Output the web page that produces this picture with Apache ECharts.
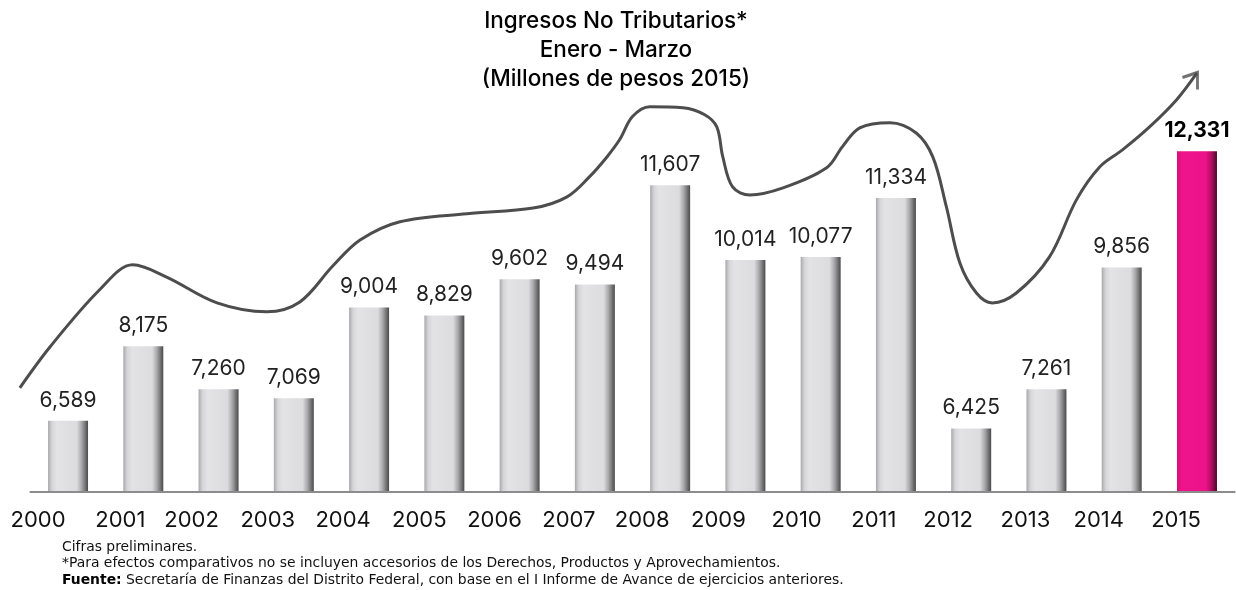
<!DOCTYPE html>
<html>
<head>
<meta charset="utf-8">
<script src="https://cdn.jsdelivr.net/npm/echarts@6/dist/echarts.min.js"></script>
<style>
html,body{margin:0;padding:0;background:#fff;}
#chart{width:1236px;height:590px;}
</style>
</head>
<body>
<div id="chart"></div>
<script>
// ---- data ----
const years = ['2000','2001','2002','2003','2004','2005','2006','2007','2008','2009','2010','2011','2012','2013','2014','2015'];
const values = [6589, 8175, 7260, 7069, 9004, 8829, 9602, 9494, 11607, 10014, 10077, 11334, 6425, 7261, 9856, 12331];
// horizontal shift (px) of each year label relative to its bar, as seen in the original
const labelShift = [-30, -23, -27, -26, -26, -25, -25, -26, -28, -27, -24, -22, -23, -21, -23, -21];
// decorative trend curve: [category position, value]
const trendPoints = [
  [-0.64, 7290], [-0.24, 8160], [0.42, 9380], [0.86, 9910], [1.31, 9650], [1.98, 9100],
  [2.64, 8910], [3.08, 9120], [3.52, 9890], [3.88, 10440], [4.41, 10830], [5.30, 11000],
  [6.18, 11120], [6.63, 11360], [6.93, 11790], [7.16, 12210], [7.33, 12580], [7.50, 13070],
  [7.73, 13280], [8.17, 13260], [8.46, 13110], [8.62, 12850], [8.70, 12210], [8.83, 11570],
  [9.06, 11400], [9.50, 11550], [10.08, 11980], [10.29, 12430], [10.52, 12830], [10.92, 12940],
  [11.27, 12720], [11.49, 12210], [11.67, 11150], [11.85, 9950], [12.07, 9310], [12.28, 9100],
  [12.60, 9310], [13.04, 10080], [13.40, 11300], [13.71, 12000], [14.01, 12360], [14.37, 12850],
  [14.73, 13430], [15.00, 14000]
];
const titleLines = ['Ingresos No Tributarios*', 'Enero - Marzo', '(Millones de pesos 2015)'];
const notes = [
  'Cifras preliminares.',
  '*Para efectos comparativos no se incluyen accesorios de los Derechos, Productos y Aprovechamientos.'
];
const sourceLabel = 'Fuente:';
const sourceText = ' Secretaría de Finanzas del Distrito Federal, con base en el I Informe de Avance de ejercicios anteriores.';

// ---- layout / styles ----
const FONT = 'Inter, "Noto Sans", sans-serif';
const NOTE_FONT = '"DejaVu Sans", sans-serif';
const Y_MIN = 5070, Y_MAX = 15000;
const GRID_LEFT = 30.4, GRID_RIGHT = 1.4, GRID_TOP = 26, GRID_BOTTOM = 98;
const BAND = (1236 - GRID_LEFT - GRID_RIGHT) / years.length;

const grayGrad = new echarts.graphic.LinearGradient(0, 0, 1, 0, [
  {offset: 0, color: '#a9a9ab'},
  {offset: 0.1, color: '#d6d6d8'},
  {offset: 0.22, color: '#e3e3e5'},
  {offset: 0.72, color: '#dcdcde'},
  {offset: 0.84, color: '#a8a8aa'},
  {offset: 1, color: '#4a4a4a'}
]);
const pinkGrad = new echarts.graphic.LinearGradient(0, 0, 1, 0, [
  {offset: 0, color: '#d10f75'},
  {offset: 0.12, color: '#ef148b'},
  {offset: 0.72, color: '#ec1389'},
  {offset: 0.86, color: '#b00d64'},
  {offset: 1, color: '#4c0829'}
]);

const rich = {};
labelShift.forEach((s, i) => {
  rich['o' + i] = {fontFamily: FONT, fontSize: 22, color: '#111', padding: [0, -2 * s, 0, 0]};
});

const barData = values.map((v, i) => ({
  value: v,
  itemStyle: {color: i === values.length - 1 ? pinkGrad : grayGrad},
  label: i === values.length - 1 ? {fontWeight: 'bold', color: '#000'} : {}
}));

const chart = echarts.init(document.getElementById('chart'), null, {renderer: 'canvas'});
chart.setOption({
  animation: false,
  backgroundColor: '#fff',
  title: [
    {
      text: titleLines.join('\n'),
      left: 611, top: 2, textAlign: 'center',
      textStyle: {fontFamily: FONT, fontSize: 22.5, fontWeight: 500, color: '#000', lineHeight: 29}
    },
    {
      text: notes.join('\n') + '\n{b|' + sourceLabel + '}' + sourceText,
      left: 57, top: 534,
      textStyle: {
        fontFamily: NOTE_FONT, fontSize: 13.9, color: '#111', lineHeight: 16.5, fontWeight: 'normal',
        rich: {b: {fontFamily: NOTE_FONT, fontSize: 13.9, fontWeight: 'bold', color: '#000', lineHeight: 16.5}}
      }
    }
  ],
  grid: [
    {left: GRID_LEFT, right: GRID_RIGHT, top: GRID_TOP, bottom: GRID_BOTTOM},
    {left: 0, right: GRID_RIGHT, top: GRID_TOP, bottom: GRID_BOTTOM}
  ],
  xAxis: [
    {
      type: 'category', data: years, boundaryGap: true, gridIndex: 0,
      axisLine: {show: true, lineStyle: {color: '#8c8c8c', width: 2}},
      axisTick: {show: false},
      axisLabel: {
        margin: 17, interval: 0,
        formatter: (v, i) => '{o' + i + '|' + v + '}',
        rich: rich
      },
      z: 5
    },
    {type: 'value', gridIndex: 1, min: -0.5 - GRID_LEFT / BAND, max: years.length - 0.5, show: false}
  ],
  yAxis: [
    {type: 'value', gridIndex: 0, min: Y_MIN, max: Y_MAX, show: false, splitLine: {show: false}},
    {type: 'value', gridIndex: 1, min: Y_MIN, max: Y_MAX, show: false, splitLine: {show: false}}
  ],
  series: [
    {
      type: 'bar', data: barData, barWidth: 40, xAxisIndex: 0, yAxisIndex: 0,
      label: {
        show: true, position: 'top', distance: 10,
        formatter: p => p.value.toLocaleString('en-US'),
        fontFamily: FONT, fontSize: 21, color: '#222'
      }
    },
    {
      type: 'line', xAxisIndex: 1, yAxisIndex: 1, data: trendPoints, smooth: 0.35, clip: false,
      showSymbol: false, symbol: 'none',
      lineStyle: {color: '#4d4d4d', width: 3}, z: 4
    },
    {
      type: 'scatter', xAxisIndex: 1, yAxisIndex: 1, data: [trendPoints[trendPoints.length - 1]], clip: false,
      symbol: 'path://M0,5 L15,0 L15,17', symbolSize: [15, 17], symbolOffset: [-7, 8],
      itemStyle: {color: 'rgba(0,0,0,0)', borderColor: '#4d4d4d', borderWidth: 3},
      z: 4, silent: true
    }
  ]
});
</script>
</body>
</html>
